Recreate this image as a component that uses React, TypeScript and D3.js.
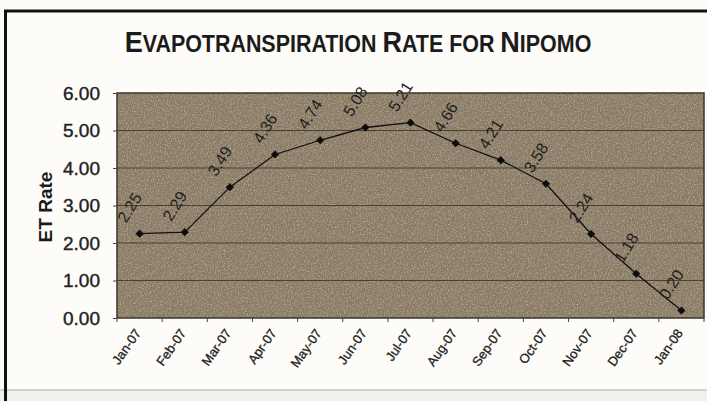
import React, { useEffect, useRef } from "react";
import * as d3 from "d3";

const months = [
  "Jan-07", "Feb-07", "Mar-07", "Apr-07", "May-07", "Jun-07", "Jul-07",
  "Aug-07", "Sep-07", "Oct-07", "Nov-07", "Dec-07", "Jan-08",
];
const etRates = [2.25, 2.29, 3.49, 4.36, 4.74, 5.08, 5.21, 4.66, 4.21, 3.58, 2.24, 1.18, 0.2];
const yTicks = [0, 1, 2, 3, 4, 5, 6];

function App() {
  const ref = useRef<SVGSVGElement | null>(null);

  useEffect(() => {
    drawChart();
  }, []);

  const drawChart = () => {
    const W = 707;
    const H = 401;
    const font = "Liberation Sans, Arial, sans-serif";
    const svg = d3.select(ref.current);
    svg.selectAll("*").remove();

    const margin = { top: 93, right: 3, bottom: 83, left: 117 };
    const x = d3
      .scaleBand()
      .domain(months)
      .range([margin.left, W - margin.right]);
    const y = d3.scaleLinear().domain([0, 6]).range([H - margin.bottom, margin.top]);
    const cx = (m: string) => (x(m) as number) + x.bandwidth() / 2;

    // noise texture for plot area
    const defs = svg.append("defs");
    const f = defs.append("filter").attr("id", "grain").attr("x", 0).attr("y", 0).attr("width", 1).attr("height", 1);
    f.append("feTurbulence")
      .attr("type", "fractalNoise")
      .attr("baseFrequency", 0.7)
      .attr("numOctaves", 2)
      .attr("seed", 3);
    f.append("feColorMatrix")
      .attr("type", "matrix")
      .attr("values", "0 0 0 0 0.85  0 0 0 0 0.8  0 0 0 0 0.7  3 0 0 0 -1.3");

    // page
    svg.append("rect").attr("width", W).attr("height", H).attr("fill", "#fdfcf8");
    svg.append("rect").attr("x", 0).attr("y", 390).attr("width", W).attr("height", H - 390).attr("fill", "#f1f0ec");
    svg.append("line").attr("x1", 0).attr("x2", W).attr("y1", 390).attr("y2", 390).attr("stroke", "#c9c7c2").attr("stroke-width", 1.5);
    svg.append("line").attr("x1", 4).attr("x2", W).attr("y1", 11).attr("y2", 11).attr("stroke", "#111").attr("stroke-width", 3);
    svg.append("line").attr("x1", 5.5).attr("x2", 5.5).attr("y1", 10).attr("y2", H).attr("stroke", "#111").attr("stroke-width", 3);

    // title, small caps look, squeezed to the reference width
    const title = svg
      .append("text")
      .attr("text-anchor", "middle")
      .attr("font-family", font)
      .attr("font-weight", "bold")
      .attr("fill", "#1b1b1b");
    const parts: [string, number][] = [
      ["E", 29], ["VAPOTRANSPIRATION ", 23], ["R", 29], ["ATE FOR ", 23], ["N", 29], ["IPOMO", 23],
    ];
    parts.forEach(([t, s]) => title.append("tspan").attr("font-size", s).text(t));
    const tw = (title.node() as SVGTextElement).getBBox().width || 467;
    title.attr("transform", `translate(358,52) scale(${467 / tw},1)`);

    // plot background
    const pw = W - margin.right - margin.left;
    const ph = y(0) - y(6);
    svg.append("rect").attr("x", margin.left).attr("y", y(6)).attr("width", pw).attr("height", ph).attr("fill", "#897a64");
    svg.append("rect").attr("x", margin.left).attr("y", y(6)).attr("width", pw).attr("height", ph).attr("filter", "url(#grain)").attr("opacity", 0.35);

    // gridlines
    svg
      .append("g")
      .selectAll("line")
      .data(yTicks.slice(1, -1))
      .join("line")
      .attr("x1", margin.left)
      .attr("x2", W - margin.right)
      .attr("y1", (d) => y(d))
      .attr("y2", (d) => y(d))
      .attr("stroke", "#4a4034")
      .attr("stroke-width", 1);

    svg.append("rect").attr("x", margin.left).attr("y", y(6)).attr("width", pw).attr("height", ph)
      .attr("fill", "none").attr("stroke", "#3b342a").attr("stroke-width", 1.5);

    // y axis
    const yAxis = svg.append("g").attr("transform", `translate(${margin.left},0)`)
      .call(d3.axisLeft(y).tickValues(yTicks).tickSize(4).tickPadding(13).tickFormat(d3.format(".2f")));
    yAxis.select(".domain").remove();
    yAxis.selectAll("line").attr("stroke", "#444");
    yAxis.selectAll("text")
      .attr("font-size", 19)
      .attr("font-family", font)
      .attr("fill", "#222")
      .attr("stroke", "#222")
      .attr("stroke-width", 0.4);

    svg.append("text")
      .attr("transform", "translate(52,207) rotate(-90)")
      .attr("text-anchor", "middle")
      .attr("font-size", 19)
      .attr("font-weight", "bold")
      .attr("font-family", font)
      .attr("fill", "#1b1b1b")
      .text("ET Rate");

    // x ticks at category boundaries
    svg.append("g")
      .selectAll("line")
      .data(months.concat(["__end"]))
      .join("line")
      .attr("x1", (d, i) => margin.left + i * x.bandwidth())
      .attr("x2", (d, i) => margin.left + i * x.bandwidth())
      .attr("y1", y(0))
      .attr("y2", y(0) + 4)
      .attr("stroke", "#444");

    svg.append("g")
      .selectAll("text")
      .data(months)
      .join("text")
      .attr("transform", (d) => `translate(${cx(d) + 2},${y(0) + 15}) rotate(-55)`)
      .attr("text-anchor", "end")
      .attr("font-size", 13)
      .attr("font-family", font)
      .attr("fill", "#222")
      .attr("stroke", "#222")
      .attr("stroke-width", 0.3)
      .text((d) => d);

    // line + markers
    const data = months.map((m, i) => ({ m, v: etRates[i] }));
    const line = d3.line<{ m: string; v: number }>().x((d) => cx(d.m)).y((d) => y(d.v));
    svg.append("path").datum(data).attr("d", line).attr("fill", "none").attr("stroke", "#111").attr("stroke-width", 1.3);

    const diamond = d3.symbol().type(d3.symbolSquare).size(34);
    svg.append("g")
      .selectAll("path")
      .data(data)
      .join("path")
      .attr("d", diamond)
      .attr("transform", (d) => `translate(${cx(d.m)},${y(d.v)}) rotate(45)`)
      .attr("fill", "#0d0d0d");

    svg.append("g")
      .selectAll("text")
      .data(data)
      .join("text")
      .attr("transform", (d) => `translate(${cx(d.m) - 10},${y(d.v) - 26}) rotate(-58)`)
      .attr("text-anchor", "middle")
      .attr("dominant-baseline", "central")
      .attr("font-size", 16)
      .attr("font-family", font)
      .attr("fill", "#1e1e1e")
      .text((d) => d.v.toFixed(2));
  };

  return (
    <div style={{ position: "absolute", left: 0, top: 0 }}>
      <svg ref={ref} width={707} height={401} style={{ display: "block" }} />
    </div>
  );
}

export default App;
